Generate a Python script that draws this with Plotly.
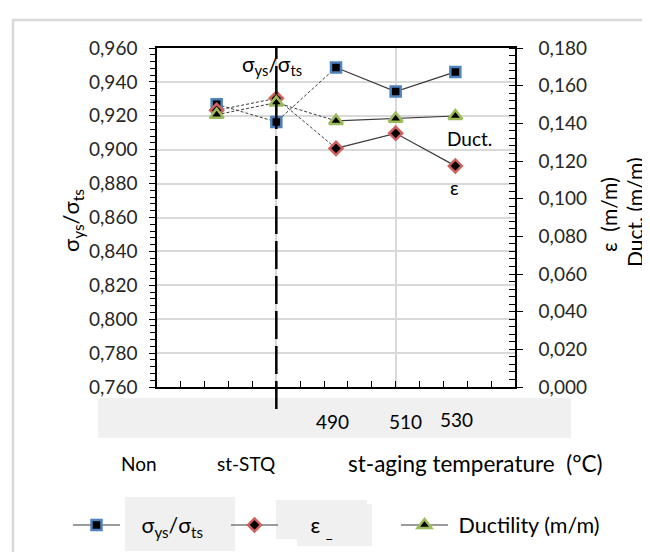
import plotly.graph_objects as go

# ---------------- data ----------------
categories = ["Non", "st-STQ", "490", "510", "530"]
ratio_ys_ts = [0.9268, 0.9164, 0.9485, 0.9343, 0.9459]     # left axis
strain_eps = [0.1469, 0.1533, 0.1267, 0.1347, 0.1174]      # right axis
ductility = [0.1446, 0.1510, 0.1413, 0.1425, 0.1439]       # right axis
temp_labels = ["490", "510", "530"]
left_ticks = [0.76, 0.96, 0.02]
right_ticks = [0.0, 0.18, 0.02]

x_pos = list(range(len(categories)))

# ---------------- geometry helpers ----------------
W, H = 650, 552
L, R, T, B = 149, 507, 40, 379
def px(x):
    return (x - L) / (R - L)
def py(y):
    return (B - y) / (B - T)

FONT = "Lato, DejaVu Sans, sans-serif"
LINE_C = "#3a3a3a"

fig = go.Figure()

series = [
    ("ratio", ratio_ys_ts, "y", dict(symbol="square", size=10, color="black",
                                     line=dict(color="#4f81bd", width=2.5)), "legend",
     "\u00a0\u00a0\u00a0σ<sub>ys</sub>/σ<sub>ts</sub>"),
    ("eps", strain_eps, "y2", dict(symbol="diamond", size=10, color="black",
                                   line=dict(color="#d0605d", width=2.5)), "legend2",
     "\u00a0\u00a0\u00a0\u00a0\u00a0ε\u00a0<sub>_</sub>"),
    ("duct", ductility, "y2", dict(symbol="triangle-up", size=12, color="black",
                                   line=dict(color="#9bbb59", width=2.5)), "legend3",
     "\u00a0Ductility (m/m)"),
]

# dashed connectors (Non -> STQ -> 490)
for key, vals, ax, mk, lg, nm in series:
    fig.add_trace(go.Scatter(x=x_pos[:3], y=vals[:3], yaxis=ax, mode="lines",
                             line=dict(color=LINE_C, width=1, dash="3px,2px"),
                             showlegend=False, hoverinfo="skip"))
# solid lines + markers (aging temperatures) with legend entries
for key, vals, ax, mk, lg, nm in series:
    fig.add_trace(go.Scatter(x=x_pos[2:], y=vals[2:], yaxis=ax, mode="lines+markers",
                             line=dict(color=LINE_C, width=1.2), marker=mk,
                             name=nm, legend=lg, legendgroup=key))
    fig.add_trace(go.Scatter(x=x_pos[:2], y=vals[:2], yaxis=ax, mode="markers",
                             marker=mk, showlegend=False, legendgroup=key))

shapes = [
    # outer light frame
    dict(type="rect", xref="paper", yref="paper", x0=px(5), x1=px(700),
         y0=py(600), y1=py(12), line=dict(color="#d9d9d9", width=2.5),
         fillcolor="rgba(0,0,0,0)", layer="below"),
    # gray band of temperature labels
    dict(type="rect", xref="paper", yref="paper", x0=px(90), x1=px(563),
         y0=py(430), y1=py(390), line=dict(width=0), fillcolor="#f0f0f0", layer="below"),
    # legend grey boxes
    dict(type="rect", xref="paper", yref="paper", x0=px(117), x1=px(227),
         y0=py(543), y1=py(489), line=dict(width=0), fillcolor="#f0f0f0", layer="below"),
    dict(type="rect", xref="paper", yref="paper", x0=px(268), x1=px(359),
         y0=py(531), y1=py(492), line=dict(width=0), fillcolor="#f0f0f0", layer="below"),
    dict(type="rect", xref="paper", yref="paper", x0=px(289), x1=px(364),
         y0=py(538), y1=py(496), line=dict(width=0), fillcolor="#f0f0f0", layer="below"),
    # long dashed separator at st-STQ
    dict(type="line", xref="x", yref="paper", x0=x_pos[1], x1=x_pos[1],
         y0=py(401), y1=1.0, line=dict(color="black", width=2.5, dash="28px,7px"),
         layer="above"),
]

annotations = [
    dict(text="σ<sub>ys</sub>/σ<sub>ts</sub>", x=px(64), y=py(213), textangle=-90,
         font=dict(size=22)),
    dict(text="ε  (m/m)", x=px(601), y=py(207), textangle=-90, font=dict(size=21)),
    dict(text="Duct. (m/m)", x=px(626), y=py(204), textangle=-90, font=dict(size=21)),
    dict(text="σ<sub>ys</sub>/σ<sub>ts</sub>", x=px(264), y=py(57), font=dict(size=21)),
    dict(text="Duct.", x=px(461), y=py(130), font=dict(size=19)),
    dict(text="ε", x=px(446), y=py(179), font=dict(size=19)),
    dict(text=temp_labels[0], x=px(324), y=py(413), font=dict(size=19)),
    dict(text=temp_labels[1], x=px(397), y=py(413), font=dict(size=19)),
    dict(text=temp_labels[2], x=px(448), y=py(411), font=dict(size=19)),
    dict(text=categories[0], x=px(131), y=py(455), font=dict(size=19)),
    dict(text=categories[1], x=px(238), y=py(455), font=dict(size=19)),
    dict(text="st-aging temperature  (°C)", x=px(467), y=py(455), font=dict(size=22.5)),
]
for a in annotations:
    a.update(xref="paper", yref="paper", showarrow=False, xanchor="center", yanchor="middle")
    a["font"].update(family=FONT, color="black")

leg_common = dict(xref="container", yref="container", xanchor="left", yanchor="middle",
                  y=1 - 517 / H, bgcolor="rgba(0,0,0,0)", itemwidth=47,
                  font=dict(family=FONT, size=21.5, color="black"))

fig.update_layout(
    width=W, height=H,
    margin=dict(l=L, r=W - R, t=T, b=H - B, autoexpand=False),
    paper_bgcolor="white", plot_bgcolor="white",
    separators=",.",
    font=dict(family=FONT, color="#262626"),
    showlegend=True,
    legend=dict(leg_common, x=60 / W),
    legend2=dict(leg_common, x=218 / W),
    legend3=dict(leg_common, x=388 / W),
    xaxis=dict(range=[-1, 5], showticklabels=False, showline=True, linecolor="black",
               linewidth=1.5, mirror=True, ticks="inside", ticklen=6, tickcolor="black",
               tick0=-1, dtick=2, showgrid=True, gridcolor="#d9d9d9", gridwidth=1.5,
               zeroline=False, automargin=False,
               minor=dict(tick0=-1, dtick=0.4, ticks="inside", ticklen=6,
                          tickcolor="black", showgrid=False)),
    yaxis=dict(range=[left_ticks[0], left_ticks[1]], dtick=left_ticks[2], tick0=left_ticks[0],
               tickformat=".3f", showline=True, linecolor="black", linewidth=1.5,
               ticks="outside", ticklen=6, tickcolor="black", ticklabelstandoff=8,
               showgrid=True, gridcolor="#d9d9d9", gridwidth=1.5, zeroline=False,
               automargin=False,
               tickfont=dict(family=FONT, size=19, color="#262626"),
               minor=dict(dtick=0.004, ticks="outside", ticklen=5, tickcolor="black",
                          showgrid=False)),
    yaxis2=dict(range=[right_ticks[0], right_ticks[1]], dtick=right_ticks[2], tick0=0,
                tickformat=".3f", overlaying="y", side="right", showline=True,
                linecolor="black", linewidth=1.5, ticks="outside", ticklen=6,
                tickcolor="black", ticklabelstandoff=12, showgrid=False, zeroline=False,
                automargin=False,
                tickfont=dict(family=FONT, size=19, color="#262626"),
                minor=dict(dtick=0.004, ticks="inside", ticklen=6, tickcolor="black",
                           showgrid=False)),
    shapes=shapes,
    annotations=annotations,
)

fig.write_html("out.html")
